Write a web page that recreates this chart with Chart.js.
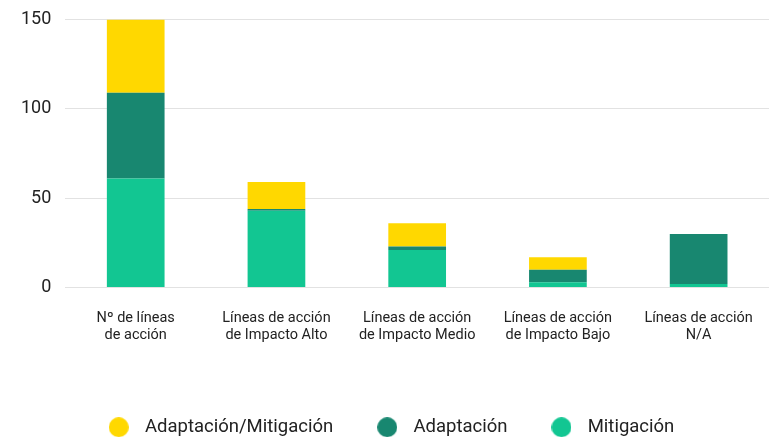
<!DOCTYPE html>
<html lang="es">
<head>
  <meta charset="UTF-8">
  <title>Líneas de acción</title>
  <style>
    body { margin: 0; background: #fff; }
    .chartBox { width: 773px; height: 440px; }
  </style>
</head>
<body>
  <script src="https://cdn.jsdelivr.net/npm/chart.js"></script>

  <div class="chartBox">
    <canvas id="barChart"></canvas>
  </div>

  <script>
    const categorias = [
      ['Nº de líneas', 'de acción'],
      ['Líneas de acción', 'de Impacto Alto'],
      ['Líneas de acción', 'de Impacto Medio'],
      ['Líneas de acción', 'de Impacto Bajo'],
      ['Líneas de acción', 'N/A']
    ];
    const mitigacion = [61, 43, 21, 3, 2];
    const adaptacion = [48, 1, 2, 7, 28];
    const adaptMitigacion = [41, 15, 13, 7, 0];
    const ticksY = [0, 50, 100, 150];

    const colores = ['#12C692', '#188770', '#FFD800'];

    // circulos de la leyenda (imagen para poder separar el texto)
    const circulo = (color) => {
      const c = document.createElement('canvas');
      c.width = 20;
      c.height = 20;
      const g = c.getContext('2d');
      g.fillStyle = color;
      g.beginPath();
      g.arc(10, 10, 10, 0, Math.PI * 2);
      g.fill();
      return c;
    };
    const circulos = colores.map(circulo);

    // ajusta el alto de la leyenda
    const leyendaAlto = {
      id: 'leyendaAlto',
      beforeInit(chart) {
        const fit = chart.legend.fit;
        chart.legend.fit = function () {
          fit.bind(this)();
          this.height = 59;
        };
      }
    };

    const ctx = document.getElementById('barChart').getContext('2d');
    const barChart = new Chart(ctx, {
      type: 'bar',
      data: {
        labels: categorias,
        datasets: [
          { label: 'Mitigación', data: mitigacion, backgroundColor: colores[0] },
          { label: 'Adaptación', data: adaptacion, backgroundColor: colores[1] },
          { label: 'Adaptación/Mitigación', data: adaptMitigacion, backgroundColor: colores[2] }
        ]
      },
      plugins: [leyendaAlto],
      options: {
        responsive: true,
        maintainAspectRatio: false,
        animation: false,
        datasets: {
          bar: { categoryPercentage: 1, barPercentage: 0.41, borderWidth: 0 }
        },
        layout: { padding: { top: 0, left: 7, right: 4, bottom: 0 } },
        scales: {
          x: {
            stacked: true,
            grid: { display: false },
            border: { display: false },
            ticks: {
              color: '#222',
              font: { family: 'Roboto', size: 14.5 },
              padding: 14,
              maxRotation: 0
            },
            afterFit: (scale) => { scale.height = 93.5; }
          },
          y: {
            stacked: true,
            min: 0,
            max: 150,
            border: { display: false },
            grid: { color: '#e2e2e2', lineWidth: 1, drawTicks: false },
            afterBuildTicks: (scale) => { scale.ticks = ticksY.map(v => ({ value: v })); },
            afterFit: (scale) => { scale.paddingTop = 19.5; },
            ticks: {
              color: '#222',
              font: { family: 'Roboto', size: 18 },
              padding: 14
            }
          }
        },
        plugins: {
          tooltip: { enabled: false },
          legend: {
            position: 'bottom',
            reverse: true,
            labels: {
              usePointStyle: true,
              pointStyleWidth: 34,
              padding: 37,
              color: '#222',
              font: { family: 'Roboto', size: 18.5 },
              generateLabels: (chart) => {
                const items = Chart.defaults.plugins.legend.labels.generateLabels(chart);
                items.forEach(item => { item.pointStyle = circulos[item.datasetIndex]; });
                return items;
              }
            }
          }
        }
      }
    });
  </script>
</body>
</html>
